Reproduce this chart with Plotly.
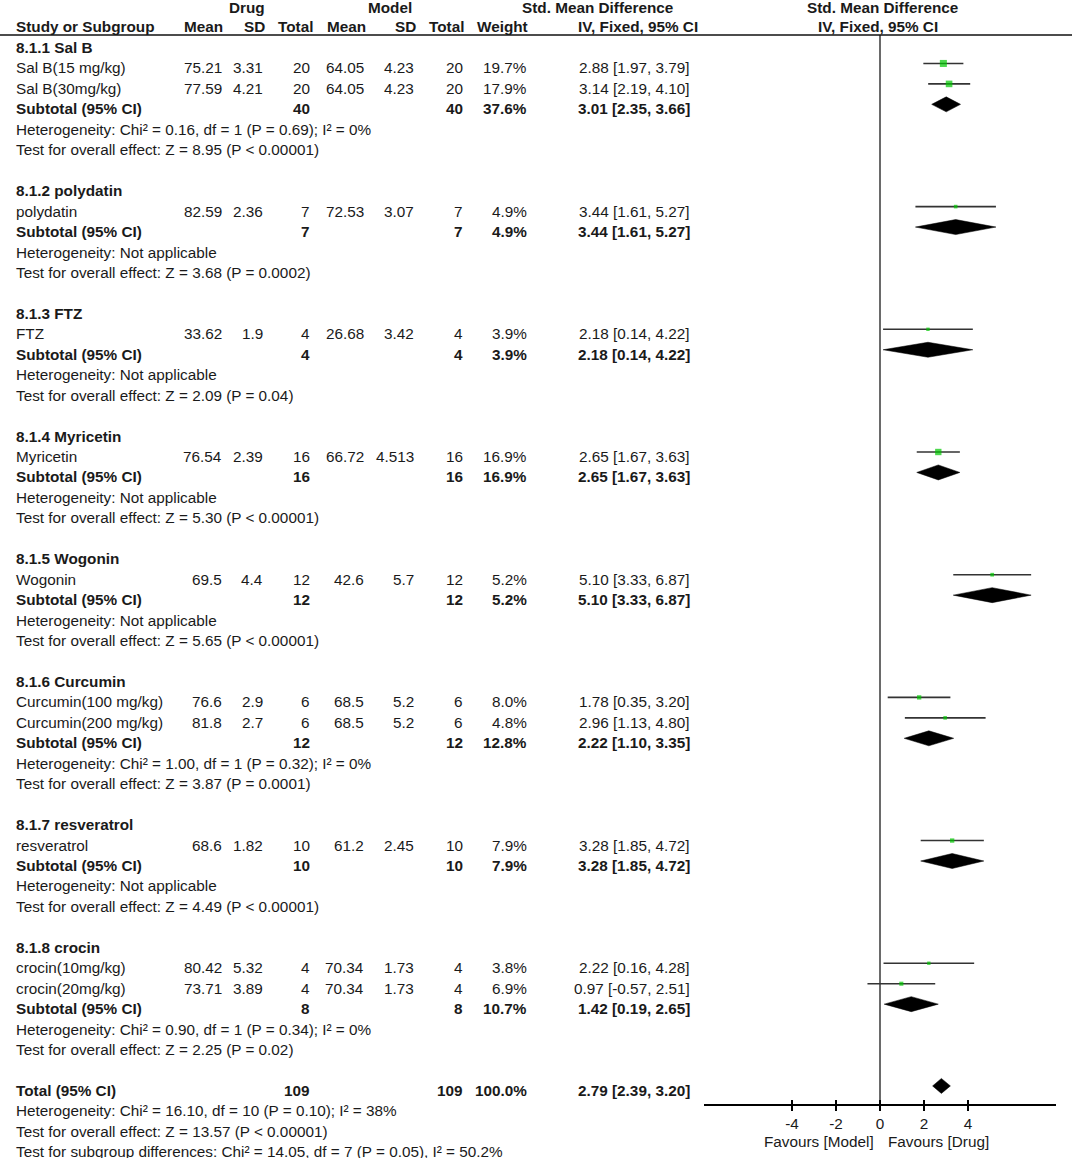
import plotly.graph_objects as go

W, H = 1072, 1158

# ---------------- data ----------------
group_names = ["8.1.1 Sal B", "8.1.2 polydatin", "8.1.3 FTZ", "8.1.4 Myricetin",
               "8.1.5 Wogonin", "8.1.6 Curcumin", "8.1.7 resveratrol", "8.1.8 crocin"]

study_names = ["Sal B(15 mg/kg)", "Sal B(30mg/kg)", "polydatin", "FTZ", "Myricetin", "Wogonin",
               "Curcumin(100 mg/kg)", "Curcumin(200 mg/kg)", "resveratrol",
               "crocin(10mg/kg)", "crocin(20mg/kg)"]
study_group = [0, 0, 1, 2, 3, 4, 5, 5, 6, 7, 7]
drug_mean = [75.21, 77.59, 82.59, 33.62, 76.54, 69.5, 76.6, 81.8, 68.6, 80.42, 73.71]
drug_sd = [3.31, 4.21, 2.36, 1.9, 2.39, 4.4, 2.9, 2.7, 1.82, 5.32, 3.89]
drug_n = [20, 20, 7, 4, 16, 12, 6, 6, 10, 4, 4]
model_mean = [64.05, 64.05, 72.53, 26.68, 66.72, 42.6, 68.5, 68.5, 61.2, 70.34, 70.34]
model_sd = [4.23, 4.23, 3.07, 3.42, 4.513, 5.7, 5.2, 5.2, 2.45, 1.73, 1.73]
model_n = [20, 20, 7, 4, 16, 12, 6, 6, 10, 4, 4]
study_weight = [19.7, 17.9, 4.9, 3.9, 16.9, 5.2, 8.0, 4.8, 7.9, 3.8, 6.9]
study_smd = [2.88, 3.14, 3.44, 2.18, 2.65, 5.10, 1.78, 2.96, 3.28, 2.22, 0.97]
study_lo = [1.97, 2.19, 1.61, 0.14, 1.67, 3.33, 0.35, 1.13, 1.85, 0.16, -0.57]
study_hi = [3.79, 4.10, 5.27, 4.22, 3.63, 6.87, 3.20, 4.80, 4.72, 4.28, 2.51]

sub_drug_n = [40, 7, 4, 16, 12, 12, 10, 8]
sub_model_n = [40, 7, 4, 16, 12, 12, 10, 8]
sub_weight = [37.6, 4.9, 3.9, 16.9, 5.2, 12.8, 7.9, 10.7]
sub_smd = [3.01, 3.44, 2.18, 2.65, 5.10, 2.22, 3.28, 1.42]
sub_lo = [2.35, 1.61, 0.14, 1.67, 3.33, 1.10, 1.85, 0.19]
sub_hi = [3.66, 5.27, 4.22, 3.63, 6.87, 3.35, 4.72, 2.65]
sub_het = ["Heterogeneity: Chi² = 0.16, df = 1 (P = 0.69); I² = 0%",
           "Heterogeneity: Not applicable",
           "Heterogeneity: Not applicable",
           "Heterogeneity: Not applicable",
           "Heterogeneity: Not applicable",
           "Heterogeneity: Chi² = 1.00, df = 1 (P = 0.32); I² = 0%",
           "Heterogeneity: Not applicable",
           "Heterogeneity: Chi² = 0.90, df = 1 (P = 0.34); I² = 0%"]
sub_test = ["Test for overall effect: Z = 8.95 (P < 0.00001)",
            "Test for overall effect: Z = 3.68 (P = 0.0002)",
            "Test for overall effect: Z = 2.09 (P = 0.04)",
            "Test for overall effect: Z = 5.30 (P < 0.00001)",
            "Test for overall effect: Z = 5.65 (P < 0.00001)",
            "Test for overall effect: Z = 3.87 (P = 0.0001)",
            "Test for overall effect: Z = 4.49 (P < 0.00001)",
            "Test for overall effect: Z = 2.25 (P = 0.02)"]

total_drug_n = 109
total_model_n = 109
total_weight = 100.0
total_smd, total_lo, total_hi = 2.79, 2.39, 3.20
total_notes = ["Heterogeneity: Chi² = 16.10, df = 10 (P = 0.10); I² = 38%",
               "Test for overall effect: Z = 13.57 (P < 0.00001)",
               "Test for subgroup differences: Chi² = 14.05, df = 7 (P = 0.05), I² = 50.2%"]

x_ticks = [-4, -2, 0, 2, 4]
x_tick_labels = ["-4", "-2", "0", "2", "4"]
axis_range = [-8, 8]

# ---------------- layout constants ----------------
FONT = "Liberation Sans, Arial, sans-serif"
FS = 15.3
TXT = "#1a1a1a"
ROW0 = 43.0      # pixel of row 0 graphics
PITCH = 20.45    # pixels per row
TEXT_SHIFT = -4.5
COL = dict(name=14, dmean=224, dsd=265, dn=312, mmean=366, msd=416, mn=465, wt=529, est=692)

def ci_str(e, lo, hi):
    return f"{e:.2f} [{lo:.2f}, {hi:.2f}]"

# ---------------- build rows ----------------
annotations = []

def txt(xpx, r, s, anchor="right", bold=False):
    annotations.append(dict(
        x=xpx / W, xref="paper", y=r, yref="y", text=(f"<b>{s}</b>" if bold else s),
        xanchor=anchor, yanchor="middle", showarrow=False, yshift=TEXT_SHIFT,
        font=dict(family=FONT, size=FS, color=TXT)))

def hdr(xpx, ypx, s, anchor="right"):
    annotations.append(dict(
        x=xpx / W, xref="paper", y=1 - ypx / H, yref="paper", text=f"<b>{s}</b>",
        xanchor=anchor, yanchor="middle", showarrow=False,
        font=dict(family=FONT, size=FS, color=TXT)))

ci_x, ci_y = [], []
sq_x, sq_y, sq_s = [], [], []
dia_x, dia_y = [], []
DH = 7.5 / PITCH  # diamond half height in rows

def diamond(r, e, lo, hi):
    dia_x.extend([lo, e, hi, e, lo, None])
    dia_y.extend([r, r - DH, r, r + DH, r, None])

r = 0
for g, gname in enumerate(group_names):
    txt(COL["name"], r, gname, "left", True)
    r += 1
    for i, sg in enumerate(study_group):
        if sg != g:
            continue
        txt(COL["name"], r, study_names[i], "left")
        txt(COL["dmean"], r, str(drug_mean[i]))
        txt(COL["dsd"], r, str(drug_sd[i]))
        txt(COL["dn"], r, str(drug_n[i]))
        txt(COL["mmean"], r, str(model_mean[i]))
        txt(COL["msd"], r, str(model_sd[i]))
        txt(COL["mn"], r, str(model_n[i]))
        txt(COL["wt"], r, f"{study_weight[i]:.1f}%")
        txt(COL["est"], r, ci_str(study_smd[i], study_lo[i], study_hi[i]))
        ci_x.extend([study_lo[i], study_hi[i], None])
        ci_y.extend([r, r, None])
        sq_x.append(study_smd[i]); sq_y.append(r)
        sq_s.append(2.5 + 0.23 * study_weight[i])
        r += 1
    txt(COL["name"], r, "Subtotal (95% CI)", "left", True)
    txt(COL["dn"], r, str(sub_drug_n[g]), bold=True)
    txt(COL["mn"], r, str(sub_model_n[g]), bold=True)
    txt(COL["wt"], r, f"{sub_weight[g]:.1f}%", bold=True)
    txt(COL["est"], r, ci_str(sub_smd[g], sub_lo[g], sub_hi[g]), bold=True)
    diamond(r, sub_smd[g], sub_lo[g], sub_hi[g])
    r += 1
    txt(COL["name"], r, sub_het[g], "left"); r += 1
    txt(COL["name"], r, sub_test[g], "left"); r += 1
    r += 1

txt(COL["name"], r, "Total (95% CI)", "left", True)
txt(COL["dn"], r, str(total_drug_n), bold=True)
txt(COL["mn"], r, str(total_model_n), bold=True)
txt(COL["wt"], r, f"{total_weight:.1f}%", bold=True)
txt(COL["est"], r, ci_str(total_smd, total_lo, total_hi), bold=True)
diamond(r, total_smd, total_lo, total_hi)
r += 1
for note in total_notes:
    txt(COL["name"], r, note, "left"); r += 1

# headers
hdr(247, 8, "Drug", "center")
hdr(390, 8, "Model", "center")
hdr(597, 8, "Std. Mean Difference", "center")
hdr(882, 8, "Std. Mean Difference", "center")
hdr(COL["name"], 27, "Study or Subgroup", "left")
hdr(225, 27, "Mean"); hdr(267, 27, "SD"); hdr(315, 27, "Total")
hdr(368, 27, "Mean"); hdr(418, 27, "SD"); hdr(466, 27, "Total")
hdr(530, 27, "Weight")
hdr(638, 27, "IV, Fixed, 95% CI", "center")
hdr(878, 27, "IV, Fixed, 95% CI", "center")

# favours labels
for xpx, s in [(819, "Favours [Model]"), (938, "Favours [Drug]")]:
    annotations.append(dict(x=xpx / W, xref="paper", y=1 - 1141 / H, yref="paper", text=s,
                            xanchor="center", yanchor="middle", showarrow=False,
                            font=dict(family=FONT, size=FS, color=TXT)))

AXIS_Y = 1105
y_top = -ROW0 / PITCH
y_bot = (H - ROW0) / PITCH

fig = go.Figure()
fig.add_trace(go.Scatter(x=ci_x, y=ci_y, mode="lines", line=dict(color="#333333", width=1.6),
                         hoverinfo="skip", showlegend=False))
fig.add_trace(go.Scatter(x=sq_x, y=sq_y, mode="markers",
                         marker=dict(symbol="square", size=sq_s, color="#00C800", line=dict(width=0)),
                         showlegend=False))
fig.add_trace(go.Scatter(x=dia_x, y=dia_y, mode="lines", fill="toself", fillcolor="black",
                         line=dict(color="black", width=0.5), showlegend=False, hoverinfo="skip"))

shapes = [
    dict(type="line", xref="paper", yref="paper", x0=0, x1=1, y0=1 - 35 / H, y1=1 - 35 / H,
         line=dict(color="#111111", width=1.5)),
    dict(type="line", xref="x", yref="paper", x0=0, x1=0, y0=1 - AXIS_Y / H, y1=1 - 35 / H,
         line=dict(color="#6a6a6a", width=2), layer="below"),
]

dom = [704 / W, 1056 / W]
fig.update_layout(
    width=W, height=H, margin=dict(l=0, r=0, t=0, b=0), autosize=False,
    paper_bgcolor="white", plot_bgcolor="rgba(0,0,0,0)",
    annotations=annotations, shapes=shapes,
    xaxis=dict(domain=dom, range=axis_range, anchor="free", position=1 - AXIS_Y / H,
               showline=True, linecolor="black", linewidth=1.5, ticks="outside", ticklen=5,
               tickwidth=1.5, tickcolor="black", tickvals=x_ticks, ticktext=x_tick_labels,
               showgrid=False, zeroline=False, fixedrange=True,
               tickfont=dict(family=FONT, size=FS, color=TXT)),
    xaxis2=dict(overlaying="x", range=axis_range, anchor="free", position=1 - AXIS_Y / H,
                showline=False, ticks="inside", ticklen=5, tickwidth=1.5, tickcolor="black",
                tickvals=x_ticks, showticklabels=False, showgrid=False, zeroline=False,
                side="bottom"),
    yaxis=dict(domain=[0, 1], range=[y_bot, y_top], visible=False, fixedrange=True),
)
# empty trace so xaxis2 is rendered
fig.add_trace(go.Scatter(x=[None], y=[None], xaxis="x2", showlegend=False))

fig.write_html("out.html", config={"displayModeBar": False},
               post_script="document.body.style.margin='0px';")
